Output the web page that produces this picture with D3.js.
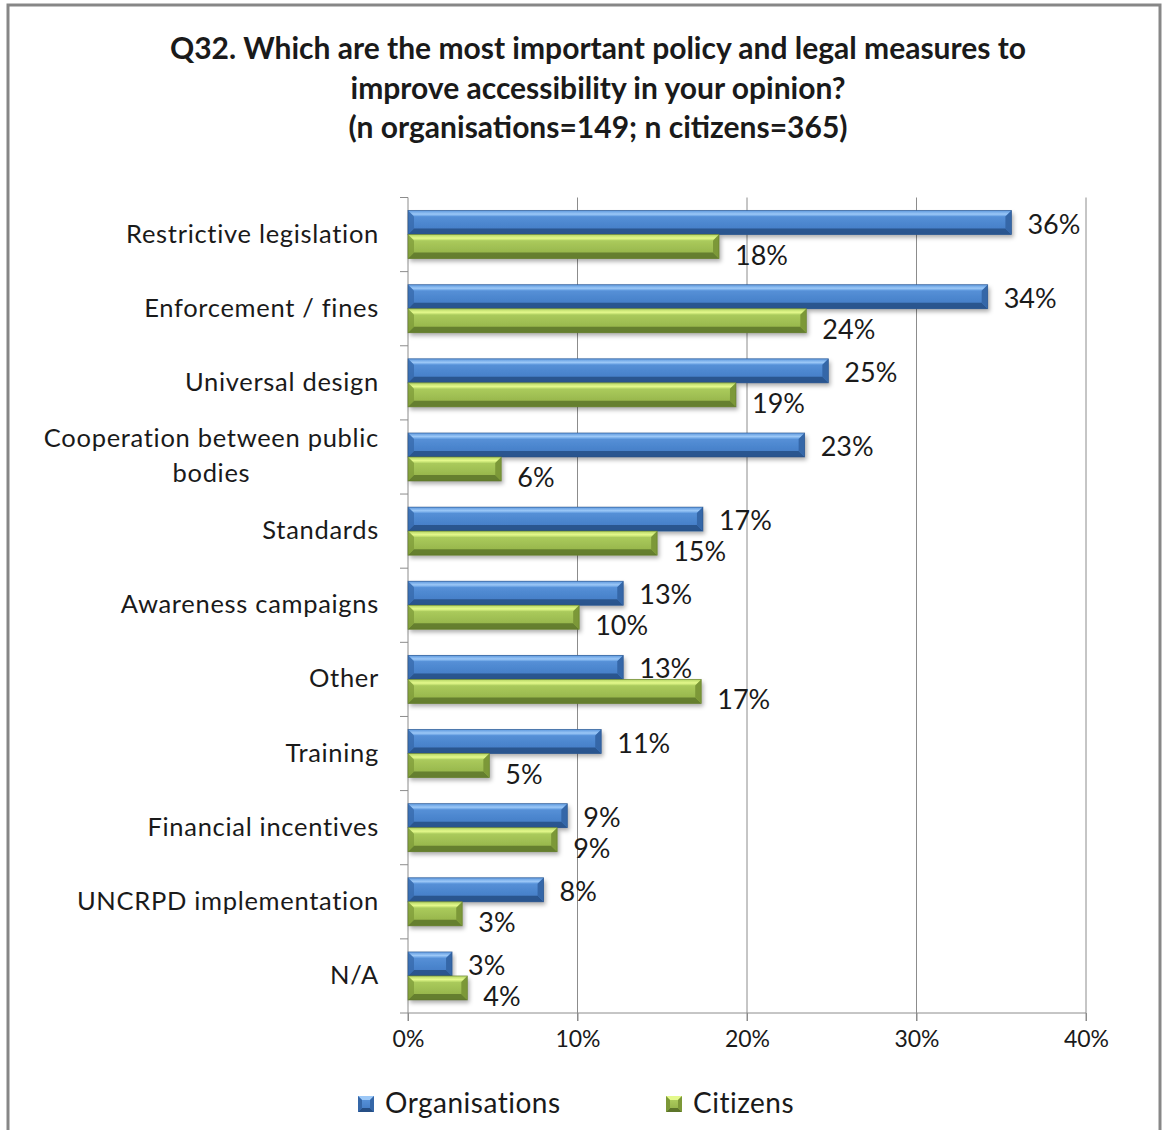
<!DOCTYPE html>
<html>
<head>
<meta charset="utf-8">
<script src="https://cdn.jsdelivr.net/npm/d3@7"></script>
<style>
  html, body { margin: 0; padding: 0; background: #fff; }
  svg { display: block; }
  text { font-family: Lato, "Open Sans", sans-serif; fill: #1a1a1a; }
</style>
</head>
<body>
<svg id="chart" width="1163" height="1130"></svg>
<script>
// Survey answers, share of respondents (%)
const categories = [
  ["Restrictive legislation"],
  ["Enforcement / fines"],
  ["Universal design"],
  ["Cooperation between public", "bodies"],
  ["Standards"],
  ["Awareness campaigns"],
  ["Other"],
  ["Training"],
  ["Financial incentives"],
  ["UNCRPD implementation"],
  ["N/A"]
];
const organisations = [35.6, 34.2, 24.8, 23.4, 17.4, 12.7, 12.7, 11.4, 9.4, 8.0, 2.6];
const citizens      = [18.35, 23.5, 19.35, 5.5, 14.7, 10.1, 17.3, 4.8, 8.8, 3.2, 3.5];
const seriesNames = ["Organisations", "Citizens"];
const xTicks = [0, 10, 20, 30, 40];
const titleLines = [
  "Q32. Which are the most important policy and legal measures to",
  "improve accessibility in your opinion?",
  "(n organisations=149; n citizens=365)"
];

const svg = d3.select("#chart");
const defs = svg.append("defs");

// Bevelled bar palettes
const palettes = {
  Organisations: { top: "#9cc8f7", faceA: "#5d98de", faceB: "#3f78c2", bottom: "#264f85", end: "#3567a8", labelDy: 2 },
  Citizens:      { top: "#e4f98c", faceA: "#b4d464", faceB: "#8fae45", bottom: "#5d752a", end: "#7c9838", labelDy: 9 }
};
Object.entries(palettes).forEach(([name, p]) => {
  const g = defs.append("linearGradient").attr("id", "face-" + name)
    .attr("x1", 0).attr("y1", 0).attr("x2", 0).attr("y2", 1);
  g.append("stop").attr("offset", "0%").attr("stop-color", p.faceA);
  g.append("stop").attr("offset", "100%").attr("stop-color", p.faceB);
  const t = defs.append("linearGradient").attr("id", "top-" + name)
    .attr("x1", 0).attr("y1", 0).attr("x2", 0).attr("y2", 1);
  t.append("stop").attr("offset", "0%").attr("stop-color", p.faceA);
  t.append("stop").attr("offset", "60%").attr("stop-color", p.top);
  t.append("stop").attr("offset", "100%").attr("stop-color", p.faceA);
});
const shadow = defs.append("filter").attr("id", "shadow")
  .attr("x", "-5%").attr("y", "-30%").attr("width", "115%").attr("height", "180%");
shadow.append("feDropShadow").attr("dx", 2).attr("dy", 3)
  .attr("stdDeviation", 2.2).attr("flood-color", "#000").attr("flood-opacity", 0.32);

// Outer frame
svg.append("rect").attr("x", 8).attr("y", 5).attr("width", 1152).attr("height", 1140)
  .attr("fill", "#fff").attr("stroke", "#878787").attr("stroke-width", 3);

// Title
svg.append("g").selectAll("text").data(titleLines).join("text")
  .attr("x", 598).attr("y", (d, i) => 59 + i * 39.5)
  .attr("text-anchor", "middle")
  .style("font-size", "30px").style("font-weight", 700)
  .text(d => d);

// Scales
const x = d3.scaleLinear().domain([0, 40]).range([408, 1086]);
const y = d3.scaleBand().domain(d3.range(categories.length)).range([197.5, 1013]);
const bw = y.bandwidth();
const y1 = d3.scaleBand().domain(seriesNames).range([bw * 0.176, bw * 0.824]);
const bh = y1.bandwidth();

const plotBottom = y.range()[1];
const plotTop = y.range()[0];

// Vertical gridlines
svg.append("g").selectAll("line").data(xTicks.slice(1)).join("line")
  .attr("x1", d => x(d)).attr("x2", d => x(d))
  .attr("y1", plotTop).attr("y2", plotBottom + 8)
  .attr("stroke", "#8c8c8c").attr("stroke-width", 1);

// Bottom axis
const xAxis = svg.append("g").attr("transform", `translate(0,${plotBottom})`)
  .call(d3.axisBottom(x).tickValues(xTicks).tickFormat(d => d + "%").tickSize(8).tickPadding(10));
xAxis.select(".domain").attr("stroke", "#8c8c8c").attr("d", `M${x(0)},0H${x(40)}`);
xAxis.selectAll(".tick line").attr("stroke", "#8c8c8c");
xAxis.selectAll(".tick text").style("font-size", "23px").style("font-family", "Lato, 'Open Sans', sans-serif")
  .attr("fill", "#262626");

// Left axis with ticks at category boundaries
const boundaries = d3.range(categories.length + 1).map(i => plotTop + i * y.step());
svg.append("line").attr("x1", x(0)).attr("x2", x(0)).attr("y1", plotTop).attr("y2", plotBottom + 8)
  .attr("stroke", "#8c8c8c");
svg.append("g").selectAll("line").data(boundaries).join("line")
  .attr("x1", x(0) - 8).attr("x2", x(0)).attr("y1", d => d).attr("y2", d => d)
  .attr("stroke", "#8c8c8c");

// Category labels: right-aligned blocks, lines centred within each block
const labelRight = 379;
const catG = svg.append("g").selectAll("text").data(categories).join("text")
  .attr("text-anchor", "middle")
  .style("font-size", "25.5px")
  .style("letter-spacing", "0.7px")
  .attr("fill", "#1a1a1a");
catG.each(function (lines, i) {
  const t = d3.select(this);
  const cy = y(i) + bw / 2;
  const spans = lines.map((ln, j) =>
    t.append("tspan").attr("x", 0)
      .attr("y", cy + 8 + (j - (lines.length - 1) / 2) * 35).text(ln));
  const w = d3.max(spans, s => s.node().getComputedTextLength());
  spans.forEach(s => s.attr("x", labelRight - w / 2));
});

// Bars
const rows = categories.map((c, i) => ({
  i,
  values: [
    { series: "Organisations", v: organisations[i] },
    { series: "Citizens", v: citizens[i] }
  ]
}));

const rowG = svg.append("g").selectAll("g").data(rows).join("g")
  .attr("transform", d => `translate(0,${y(d.i)})`);

const bar = rowG.selectAll("g.bar").data(d => d.values).join("g")
  .attr("class", "bar")
  .attr("transform", d => `translate(${x(0)},${y1(d.series)})`);

bar.each(function (d) {
  const g = d3.select(this);
  const p = palettes[d.series];
  const w = x(d.v) - x(0);
  const h = bh;
  const b = Math.min(6, w / 2);
  g.append("rect").attr("width", w).attr("height", h)
    .attr("fill", `url(#face-${d.series})`).attr("filter", "url(#shadow)");
  // top bevel
  g.append("path").attr("d", `M0,0H${w}L${w - b},${b}H${b}Z`).attr("fill", `url(#top-${d.series})`);
  // bottom bevel
  g.append("path").attr("d", `M0,${h}H${w}L${w - b},${h - b}H${b}Z`).attr("fill", p.bottom).attr("opacity", 0.85);
  // right end bevel
  g.append("path").attr("d", `M${w},0V${h}L${w - b},${h - b}V${b}Z`).attr("fill", p.end);
  // left end bevel
  g.append("path").attr("d", `M0,0V${h}L${b},${h - b}V${b}Z`).attr("fill", p.end).attr("opacity", 0.7);
  g.append("rect").attr("width", w).attr("height", h).attr("fill", "none")
    .attr("stroke", p.bottom).attr("stroke-width", 0.8).attr("stroke-opacity", 0.7);
});

// Value labels
rowG.selectAll("text.val").data(d => d.values).join("text")
  .attr("class", "val")
  .attr("x", d => x(d.v) + 16)
  .attr("y", d => y1(d.series) + bh / 2 + 9 + palettes[d.series].labelDy)
  .style("font-size", "27px")
  .attr("fill", "#1a1a1a")
  .text(d => Math.round(d.v) + "%");

// Legend
const legend = svg.append("g").selectAll("g").data(seriesNames).join("g")
  .attr("transform", (d, i) => `translate(${i === 0 ? 358 : 666},1096)`);
legend.each(function (name) {
  const g = d3.select(this);
  const p = palettes[name];
  const s = 16, b = 4;
  g.append("rect").attr("width", s).attr("height", s).attr("fill", `url(#face-${name})`);
  g.append("path").attr("d", `M0,0H${s}L${s - b},${b}H${b}Z`).attr("fill", p.top);
  g.append("path").attr("d", `M0,${s}H${s}L${s - b},${s - b}H${b}Z`).attr("fill", p.bottom);
  g.append("path").attr("d", `M${s},0V${s}L${s - b},${s - b}V${b}Z`).attr("fill", p.end);
  g.append("path").attr("d", `M0,0V${s}L${b},${s - b}V${b}Z`).attr("fill", p.end);
  g.append("text").attr("x", 27).attr("y", 17).style("font-size", "28px")
    .style("letter-spacing", "0.5px").text(name);
});
</script>
</body>
</html>
